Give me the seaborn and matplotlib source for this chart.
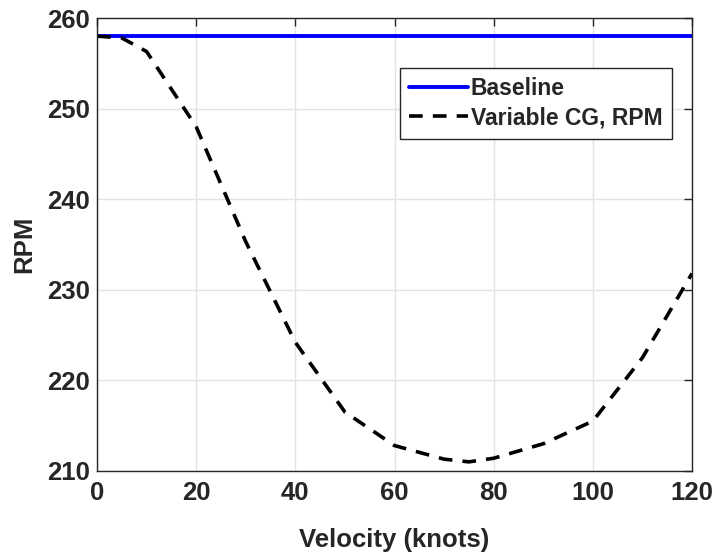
import matplotlib
matplotlib.use('Agg')
import matplotlib.pyplot as plt
import numpy as np
import pandas as pd
import seaborn as sns

# values
velocity = [0, 5, 10, 20, 30, 40, 50, 60, 70, 75, 80, 90, 100, 110, 120]
rpm_variable = [258.0, 257.8, 256.3, 248.0, 235.3, 224.2, 216.5, 212.8, 211.3, 211.0, 211.4, 213.0, 215.5, 222.5, 231.8]
baseline_rpm = 258.0

x_ticks = [0, 20, 40, 60, 80, 100, 120]
y_ticks = [210, 220, 230, 240, 250, 260]

sns.set_style('whitegrid')
plt.rcParams['font.family'] = ['Liberation Sans', 'DejaVu Sans']
plt.rcParams['font.weight'] = 'bold'

df = pd.DataFrame({'velocity': velocity, 'rpm': rpm_variable})
df_base = pd.DataFrame({'velocity': [velocity[0], velocity[-1]],
                        'rpm': [baseline_rpm, baseline_rpm]})

fig = plt.figure(figsize=(7.16, 5.56), dpi=100)
ax = fig.add_axes([0.1355, 0.153, 0.831, 0.8146])

sns.lineplot(data=df_base, x='velocity', y='rpm', ax=ax, color='#0000ff',
             linewidth=2.8, label='Baseline')
sns.lineplot(data=df, x='velocity', y='rpm', ax=ax, color='black',
             linewidth=2.6, label='Variable CG, RPM')
ax.lines[1].set_dashes([3.8, 2.8])

ax.set_xlim(0, 120)
ax.set_ylim(210, 260)
ax.set_xticks(x_ticks)
ax.set_yticks(y_ticks)
ax.set_xlabel('Velocity (knots)', fontsize=18.5, fontweight='bold', color='#262626', labelpad=17)
ax.set_ylabel('RPM', fontsize=18.5, fontweight='bold', color='#262626', labelpad=8)

ax.grid(True, color='#e3e3e3', linewidth=1.0)
for side in ['top', 'right', 'bottom', 'left']:
    ax.spines[side].set_visible(True)
    ax.spines[side].set_color('#262626')
    ax.spines[side].set_linewidth(1.0)
ax.tick_params(axis='both', direction='in', length=6, width=1.0, colors='#262626',
               labelsize=18.5, top=True, right=True, pad=5)
ax.tick_params(axis='x', pad=7)
for lab in ax.get_xticklabels() + ax.get_yticklabels():
    lab.set_fontweight('bold')

leg = ax.legend(loc='upper right', bbox_to_anchor=(0.966, 0.89), borderaxespad=0,
                fontsize=16.5, handlelength=2.55, handletextpad=0.15, borderpad=0.4,
                labelspacing=0.28, fancybox=False, framealpha=1.0)
leg.get_frame().set_edgecolor('#262626')
leg.get_frame().set_linewidth(1.0)
for t in leg.get_texts():
    t.set_fontweight('bold')

fig.savefig('out.png', dpi=100)
